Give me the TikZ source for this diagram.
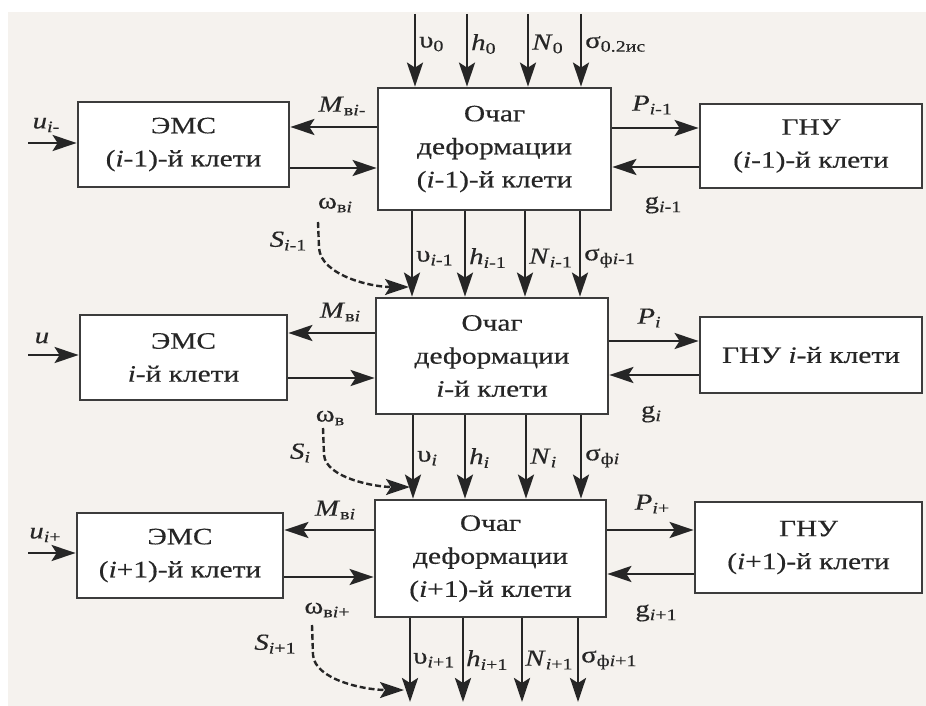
\documentclass[tikz,border=0pt]{standalone}
\usepackage{fontspec}
\setmainfont{Liberation Serif}[FakeStretch=1.25,FakeBold=0.4]
\usetikzlibrary{arrows.meta}
\definecolor{bgc}{RGB}{245,242,238}
\definecolor{ink}{RGB}{38,38,38}
\newcommand\sbs[1]{\raisebox{-0.35ex}{\fontsize{16}{16}\selectfont #1}}
\newcommand\ii{\textit{i}}
\begin{document}
\begin{tikzpicture}[x=1pt,y=-1pt,
  box/.style={draw=ink!90, line width=2.8pt, fill=white, inner sep=0pt, align=center,
              font=\fontsize{23.5}{33}\selectfont, text=ink},
  arr/.style={draw=ink, line width=2.8pt, -{Stealth[length=24pt,width=16pt,inset=5pt]}},
  darr/.style={draw=ink, line width=2.4pt, dash pattern=on 6pt off 3pt,
               -{Stealth[length=24pt,width=16pt,inset=5pt]}},
  lab/.style={inner sep=0pt, text=ink, font=\fontsize{23}{26}\selectfont},
]
\useasboundingbox (0,0) rectangle (926,706);
\fill[white] (0,0) rectangle (926,706);
\fill[bgc] (8,12) rectangle (926,706);

% ---------- boxes ----------
\node[box, minimum width=211pt, minimum height=85pt] (ems1) at (183.5,144.5) {ЭМС\\(\ii-1)-й клети};
\node[box, minimum width=233pt, minimum height=122pt] (och1) at (494.5,149) {Очаг\\деформации\\(\ii-1)-й клети};
\node[box, minimum width=222pt, minimum height=84pt] (gnu1) at (811,146) {ГНУ\\(\ii-1)-й клети};

\node[box, minimum width=207pt, minimum height=85pt] (ems2) at (183.5,357.5) {ЭМС\\\ii-й клети};
\node[box, minimum width=232pt, minimum height=116pt] (och2) at (492,356) {Очаг\\деформации\\\ii-й клети};
\node[box, minimum width=222pt, minimum height=76pt] (gnu2) at (811,355) {ГНУ \ii-й клети};

\node[box, minimum width=206pt, minimum height=85pt] (ems3) at (180,555.5) {ЭМС\\(\ii+1)-й клети};
\node[box, minimum width=231pt, minimum height=117pt] (och3) at (490.5,558.5) {Очаг\\деформации\\(\ii+1)-й клети};
\node[box, minimum width=227pt, minimum height=91pt] (gnu3) at (808.5,547.5) {ГНУ\\(\ii+1)-й клети};

% ---------- horizontal connectors ----------
\draw[arr] (och1.west |- 0,127) -- (ems1.east |- 0,127);
\draw[arr] (ems1.east |- 0,168) -- (och1.west |- 0,168);
\draw[arr] (och1.east |- 0,128) -- (gnu1.west |- 0,128);
\draw[arr] (gnu1.west |- 0,167) -- (och1.east |- 0,167);

\draw[arr] (och2.west |- 0,333) -- (ems2.east |- 0,333);
\draw[arr] (ems2.east |- 0,378) -- (och2.west |- 0,378);
\draw[arr] (och2.east |- 0,341) -- (gnu2.west |- 0,341);
\draw[arr] (gnu2.west |- 0,375) -- (och2.east |- 0,375);

\draw[arr] (och3.west |- 0,530) -- (ems3.east |- 0,530);
\draw[arr] (ems3.east |- 0,577) -- (och3.west |- 0,577);
\draw[arr] (och3.east |- 0,530) -- (gnu3.west |- 0,530);
\draw[arr] (gnu3.west |- 0,574) -- (och3.east |- 0,574);

% ---------- u inputs ----------
\coordinate (u1) at (28,143);
\coordinate (u2) at (28,355);
\coordinate (u3) at (28,553);
\draw[arr] (u1) -- (ems1.west |- u1);
\draw[arr] (u2) -- (ems2.west |- u2);
\draw[arr] (u3) -- (ems3.west |- u3);
\node[lab] (lu1) at (46,125) {\textit{u}\sbs{\ii-}};
\node[lab] (lu2) at (42,338) {\textit{u}};
\node[lab] (lu3) at (45,535) {\textit{u}\sbs{\ii+}};

% ---------- top inputs ----------
\foreach \n/\x in {1/415,2/467,3/528,4/581}
  \coordinate (t\n) at (\x,14);
\foreach \n in {1,2,3,4}
  \draw[arr] (t\n) -- (och1.north -| t\n);
\node[lab, anchor=west] (lt1) at (419,44) {υ\sbs{0}};
\node[lab, anchor=west] (lt2) at (471,44) {\textit{h}\sbs{0}};
\node[lab, anchor=west] (lt3) at (532,44) {\textit{N}\sbs{0}};
\node[lab, anchor=west] (lt4) at (585,44) {σ\sbs{0.2ис}};

% ---------- vertical links ----------
\foreach \x in {412,465,525,580}
  \draw[arr] (och1.south -| \x,0) -- (och2.north -| \x,0);
\foreach \x in {413,465,526,581}
  \draw[arr] (och2.south -| \x,0) -- (och3.north -| \x,0);
\foreach \n/\x in {1/410,2/463,3/522,4/578}
  \coordinate (b\n) at (\x,702);
\foreach \n in {1,2,3,4}
  \draw[arr] (och3.south -| b\n) -- (b\n);

\node[lab, anchor=west] (la1) at (416,258) {υ\sbs{\ii-1}};
\node[lab, anchor=west] (la2) at (469,258) {\textit{h}\sbs{\ii-1}};
\node[lab, anchor=west] (la3) at (529,258) {\textit{N}\sbs{\ii-1}};
\node[lab, anchor=west] (la4) at (584,258) {σ\sbs{ф\ii-1}};

\node[lab, anchor=west] (lb1) at (417,458) {υ\sbs{\ii}};
\node[lab, anchor=west] (lb2) at (469,458) {\textit{h}\sbs{\ii}};
\node[lab, anchor=west] (lb3) at (530,458) {\textit{N}\sbs{\ii}};
\node[lab, anchor=west] (lb4) at (585,458) {σ\sbs{ф\ii}};

\node[lab, anchor=west] (lc1) at (413,660) {υ\sbs{\ii+1}};
\node[lab, anchor=west] (lc2) at (466,660) {\textit{h}\sbs{\ii+1}};
\node[lab, anchor=west] (lc3) at (525,660) {\textit{N}\sbs{\ii+1}};
\node[lab, anchor=west] (lc4) at (581,660) {σ\sbs{ф\ii+1}};

% ---------- side labels ----------
\node[lab] (m1) at (342,106) {\textit{M}\sbs{в\ii-}};
\node[lab] (m2) at (340,312) {\textit{M}\sbs{в\ii}};
\node[lab] (m3) at (335,510) {\textit{M}\sbs{в\ii}};
\node[lab] (p1) at (652,105) {\textit{P}\sbs{\ii-1}};
\node[lab] (p2) at (649,318) {\textit{P}\sbs{\ii}};
\node[lab] (p3) at (652,504) {\textit{P}\sbs{\ii+}};
\node[lab] (g1) at (663,205) {g\sbs{\ii-1}};
\node[lab] (g2) at (651,414) {g\sbs{\ii}};
\node[lab] (g3) at (656,613) {g\sbs{\ii+1}};
\node[lab] (w1) at (335,205) {ω\sbs{в\ii}};
\node[lab] (w2) at (330,418) {ω\sbs{в}};
\node[lab] (w3) at (327,610) {ω\sbs{в\ii+}};
\node[lab] (s1) at (288,241) {\textit{S}\sbs{\ii-1}};
\node[lab] (s2) at (300,453) {\textit{S}\sbs{\ii}};
\node[lab] (s3) at (275,644) {\textit{S}\sbs{\ii+1}};

% ---------- dashed links ----------
\coordinate (d1s) at (318,222); \coordinate (d1e) at (409,287);
\coordinate (d2s) at (323,428); \coordinate (d2e) at (410,487);
\coordinate (d3s) at (312,625); \coordinate (d3e) at (404,690);
\draw[darr] (d1s) -- (319,248) .. controls (321,275) and (370,287) .. (d1e);
\draw[darr] (d2s) -- (324,455) .. controls (326,478) and (375,487) .. (d2e);
\draw[darr] (d3s) -- (313,655) .. controls (315,680) and (365,690) .. (d3e);
\end{tikzpicture}
\end{document}
